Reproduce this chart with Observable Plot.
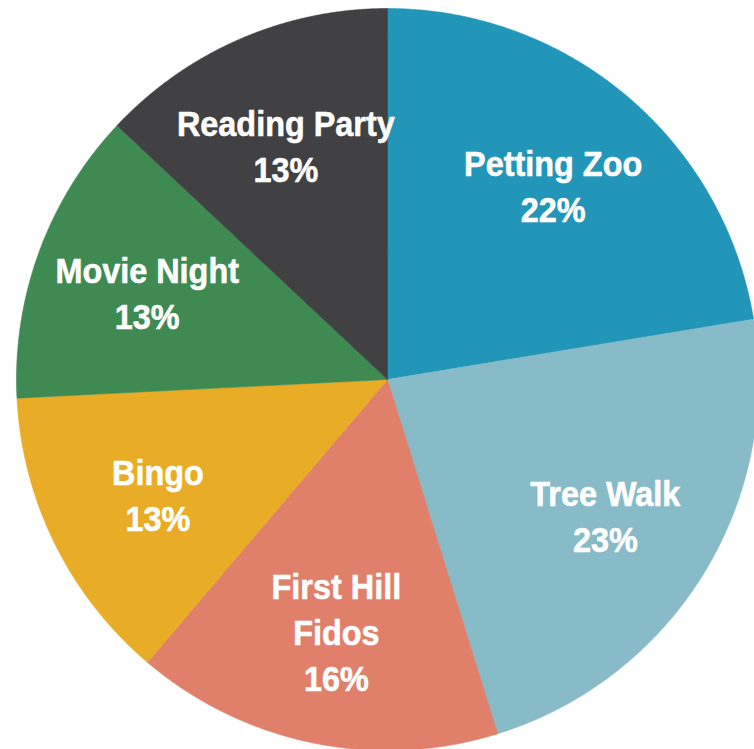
<!DOCTYPE html>
<html>
<head>
<meta charset="utf-8">
<script src="https://cdn.jsdelivr.net/npm/d3@7"></script>
<script src="https://cdn.jsdelivr.net/npm/@observablehq/plot@0.6"></script>
<style>
  html, body { margin: 0; padding: 0; background: #fff; overflow: hidden; }
  #chart svg { overflow: hidden; display: block; }
</style>
</head>
<body>
<div id="chart"></div>
<script>
// Data (clockwise from 12 o'clock)
const categories = ["Petting Zoo", "Tree Walk", "First Hill Fidos", "Bingo", "Movie Night", "Reading Party"];
const labelLines = ["Petting Zoo", "Tree Walk", "First Hill\nFidos", "Bingo", "Movie Night", "Reading Party"];
const values = [22.4, 22.8, 16.0, 13.0, 12.8, 13.0];
const percentLabels = ["22%", "23%", "16%", "13%", "13%", "13%"];
const colors = ["#2196b9", "#87bbc8", "#e07f6a", "#e8ac26", "#3f8a52", "#414042"];

const W = 754, H = 749;
const cx = 387, cy = 379, R = 371;

const arcs = d3.pie().sort(null).value(d => d)(values);

// Build slice polygons in unit-circle space from the pie angles
const slices = arcs.map((a, i) => {
  const pts = [{x: 0, y: 0}];
  const n = Math.max(2, Math.ceil((a.endAngle - a.startAngle) / (Math.PI / 720)));
  for (let k = 0; k <= n; k++) {
    const t = a.startAngle + (a.endAngle - a.startAngle) * k / n;
    pts.push({x: Math.sin(t), y: Math.cos(t)});
  }
  pts.push({x: 0, y: 0});
  return {name: categories[i], color: colors[i], pts};
});

const labelR = 0.69;
const labels = arcs.map((a, i) => {
  const m = (a.startAngle + a.endAngle) / 2;
  return {x: labelR * Math.sin(m), y: labelR * Math.cos(m), text: labelLines[i] + "\n" + percentLabels[i]};
});

const plot = Plot.plot({
  width: W,
  height: H,
  margin: 0,
  x: {domain: [-cx / R, (W - cx) / R], axis: null},
  y: {domain: [(cy - H) / R, cy / R], axis: null},
  style: {fontFamily: "'Liberation Sans', Arial, sans-serif", background: "#fff"},
  marks: [
    ...slices.map(s => Plot.line(s.pts, {x: "x", y: "y", fill: s.color, stroke: s.color, strokeWidth: 0.6, curve: "linear"})),
    Plot.text(labels, {
      x: "x", y: "y", text: "text",
      fill: "#fff", fontSize: 36, fontWeight: "bold", lineHeight: 1.28,
      textAnchor: "middle", stroke: "#fff", strokeWidth: 0.6
    })
  ]
});

// Condense the label glyphs horizontally (narrow bold face look)
plot.querySelectorAll("text").forEach(t => {
  let tr = t.getAttribute("transform") || "";
  const x = t.getAttribute("x"), y = t.getAttribute("y");
  if (x !== null || y !== null) {
    tr += ` translate(${x || 0},${y || 0})`;
    t.removeAttribute("x"); t.removeAttribute("y");
  }
  t.setAttribute("transform", (tr + " scale(0.9,1)").trim());
});
document.getElementById("chart").appendChild(plot);
</script>
</body>
</html>
